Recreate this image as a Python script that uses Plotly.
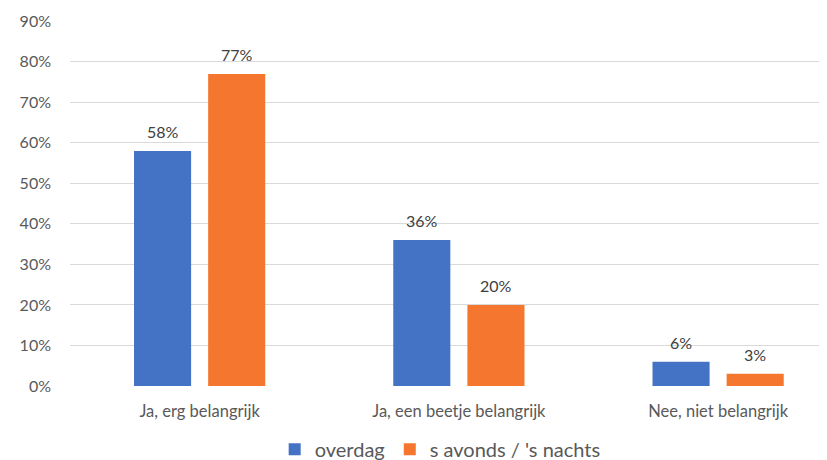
import plotly.graph_objects as go

categories = ["Ja, erg belangrijk", "Ja, een beetje belangrijk", "Nee, niet belangrijk"]
overdag = [0.58, 0.36, 0.06]
avonds = [0.77, 0.20, 0.03]
labels_overdag = ["58%", "36%", "6%"]
labels_avonds = ["77%", "20%", "3%"]
y_ticks = [0, 0.1, 0.2, 0.3, 0.4, 0.5, 0.6, 0.7, 0.8, 0.9]

font_family = "Lato, 'Noto Sans', sans-serif"
bargap = 0.428
offset = (1 - bargap) / 4  # distance of each bar centre from category centre

fig = go.Figure()
fig.add_trace(go.Bar(
    x=categories, y=overdag, name="overdag",
    marker=dict(color="#4472C4", line=dict(width=0)),
))
fig.add_trace(go.Bar(
    x=categories, y=avonds, name="s avonds / 's nachts",
    marker=dict(color="#F4762F", line=dict(width=0)),
))

annotations = []
for i, (v, t) in enumerate(zip(overdag, labels_overdag)):
    annotations.append(dict(x=i - offset, y=v, xref="x", yref="y", text=t,
                            showarrow=False, yanchor="bottom", yshift=8,
                            font=dict(size=16, color="#404040", family=font_family)))
for i, (v, t) in enumerate(zip(avonds, labels_avonds)):
    annotations.append(dict(x=i + offset, y=v, xref="x", yref="y", text=t,
                            showarrow=False, yanchor="bottom", yshift=8,
                            font=dict(size=16, color="#404040", family=font_family)))

fig.update_layout(
    width=819, height=452,
    margin=dict(l=62, r=0, t=13, b=74, autoexpand=False),
    paper_bgcolor="white", plot_bgcolor="white",
    barmode="group", bargap=bargap, bargroupgap=0.23,
    font=dict(family=font_family, color="#595959", size=16),
    showlegend=True,
    annotations=annotations,
    legend=dict(orientation="h", x=0.489, xref="paper", xanchor="center",
                y=-0.173, yanchor="middle", font=dict(size=20, color="#595959"),
                itemwidth=30, traceorder="normal"),
    xaxis=dict(range=[-0.5, 2.42], showgrid=False, showline=False,
               ticks="", ticklabelstandoff=13, automargin=False,
               tickfont=dict(size=16.5, color="#595959")),
    yaxis=dict(range=[0, 0.9005], tickvals=y_ticks, tickformat=".0%",
               showgrid=True, gridcolor="#D9D9D9", gridwidth=1,
               zeroline=False, showline=False, ticks="",
               ticklabelstandoff=18, automargin=False,
               tickfont=dict(size=16, color="#595959")),
)

fig.write_html("out.html")
